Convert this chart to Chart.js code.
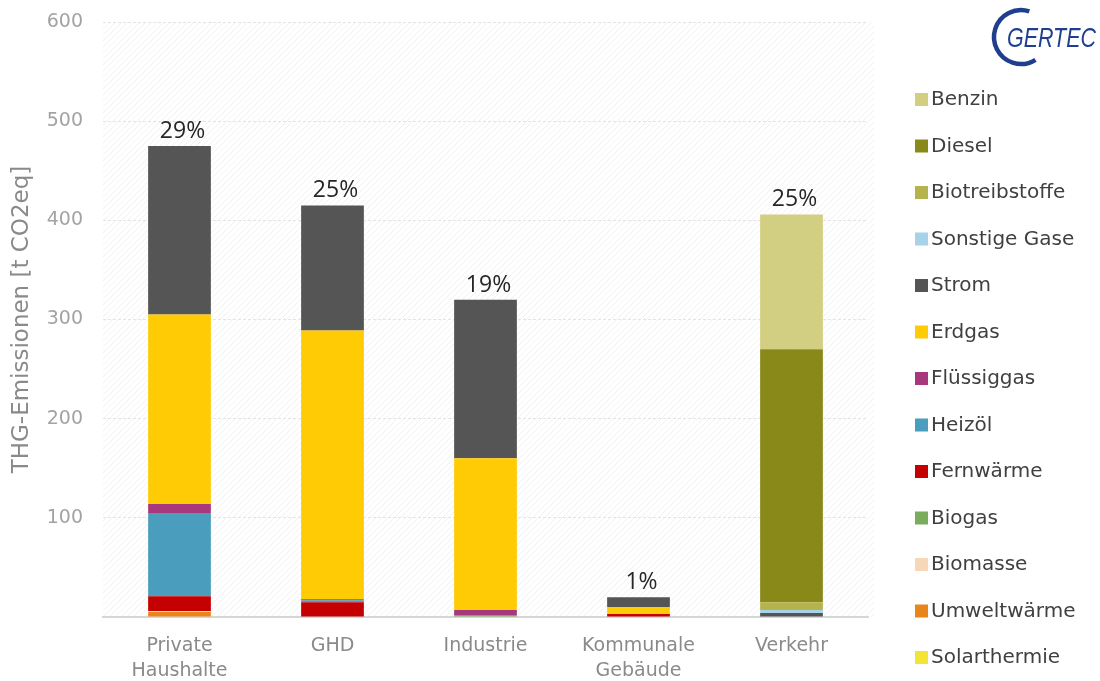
<!DOCTYPE html>
<html>
<head>
<meta charset="utf-8">
<script src="https://cdn.jsdelivr.net/npm/chart.js@4.4.1/dist/chart.umd.min.js"></script>
<style>
  html, body { margin: 0; padding: 0; background: #fff; }
  #wrap { width: 1100px; height: 681px; position: relative; }
</style>
</head>
<body>
<div id="wrap"><canvas id="chart"></canvas></div>
<script>
// categories and labels
const categories = [['Private', 'Haushalte'], 'GHD', 'Industrie', ['Kommunale', 'Gebäude'], 'Verkehr'];
const shareLabels = ['29%', '25%', '19%', '1%', '25%'];
const yTicks = [0, 100, 200, 300, 400, 500, 600];

// THG-Emissionen per energy carrier [t CO2eq], stacked bottom to top
const solarthermie   = [0, 0, 0, 0, 0];
const umweltwaerme   = [5, 0, 0, 0, 0];
const biomasse       = [1, 0, 0, 0, 0];
const biogas         = [0, 0, 2, 0, 0];
const fernwaerme     = [15, 15, 0, 3, 0];
const heizoel        = [84, 2, 0, 0, 0];
const fluessiggas    = [9, 1, 5, 0, 0];
const erdgas         = [191, 271, 153, 7, 0];
const strom          = [170, 126, 160, 10, 4];
const sonstigeGase   = [0, 0, 0, 0, 3];
const biotreibstoffe = [0, 0, 0, 0, 8];
const diesel         = [0, 0, 0, 0, 255];
const benzin         = [0, 0, 0, 0, 136];

const series = [
  { label: 'Solarthermie', data: solarthermie, color: '#f4e436' },
  { label: 'Umweltwärme', data: umweltwaerme, color: '#e8861c' },
  { label: 'Biomasse', data: biomasse, color: '#f7d8b6' },
  { label: 'Biogas', data: biogas, color: '#7bab5c' },
  { label: 'Fernwärme', data: fernwaerme, color: '#c40000' },
  { label: 'Heizöl', data: heizoel, color: '#4b9dbd' },
  { label: 'Flüssiggas', data: fluessiggas, color: '#a8387c' },
  { label: 'Erdgas', data: erdgas, color: '#ffcb05' },
  { label: 'Strom', data: strom, color: '#555555' },
  { label: 'Sonstige Gase', data: sonstigeGase, color: '#a7d2e8' },
  { label: 'Biotreibstoffe', data: biotreibstoffe, color: '#b4b34c' },
  { label: 'Diesel', data: diesel, color: '#898919' },
  { label: 'Benzin', data: benzin, color: '#d3cf82' }
];

// faint diagonal hatch behind the plot
function hatchPattern(ctx) {
  const c = document.createElement('canvas');
  c.width = 6; c.height = 6;
  const p = c.getContext('2d');
  p.fillStyle = '#ffffff';
  p.fillRect(0, 0, 6, 6);
  p.strokeStyle = '#f1f1f1';
  p.lineWidth = 1;
  p.beginPath();
  p.moveTo(0, 6); p.lineTo(6, 0);
  p.moveTo(-1, 1); p.lineTo(1, -1);
  p.moveTo(5, 7); p.lineTo(7, 5);
  p.stroke();
  return ctx.createPattern(c, 'repeat');
}

const backdrop = {
  id: 'backdrop',
  beforeDraw(chart) {
    const { ctx, chartArea: a } = chart;
    ctx.save();
    ctx.fillStyle = hatchPattern(ctx);
    ctx.fillRect(a.left, a.top, a.right - a.left + 6, a.bottom - a.top);
    ctx.restore();
  }
};

const shareLabelsPlugin = {
  id: 'shareLabels',
  afterDatasetsDraw(chart) {
    const { ctx } = chart;
    const x = chart.scales.x, y = chart.scales.y;
    ctx.save();
    ctx.font = '23px "Open Sans", "Noto Sans", sans-serif';
    ctx.fillStyle = '#262626';
    ctx.textAlign = 'center';
    ctx.textBaseline = 'alphabetic';
    categories.forEach((c, i) => {
      const total = series.reduce((s, d) => s + d.data[i], 0);
      ctx.fillText(shareLabels[i], x.getPixelForValue(i) + 3, y.getPixelForValue(total) - 8);
    });
    ctx.restore();
  }
};

const sideLegend = {
  id: 'sideLegend',
  afterDraw(chart) {
    const { ctx } = chart;
    const items = chart.data.datasets.slice().reverse();
    ctx.save();
    ctx.font = '20px "DejaVu Sans", sans-serif';
    ctx.textBaseline = 'middle';
    items.forEach((ds, i) => {
      const cy = 99 + i * 46.5;
      ctx.fillStyle = ds.backgroundColor;
      ctx.fillRect(915, cy - 6, 13, 13);
      ctx.fillStyle = '#404040';
      ctx.fillText(ds.label, 931, cy + 1);
    });
    ctx.restore();
  }
};

const logo = {
  id: 'logo',
  afterDraw(chart) {
    const { ctx } = chart;
    ctx.save();
    ctx.strokeStyle = '#1f3f8e';
    ctx.lineWidth = 4.5;
    ctx.beginPath();
    ctx.arc(1021, 37, 27, -0.4 * Math.PI, 0.32 * Math.PI, true);
    ctx.stroke();
    ctx.fillStyle = '#1f3f8e';
    ctx.font = 'italic 28px "Liberation Sans Narrow", "Liberation Sans", sans-serif';
    ctx.textBaseline = 'middle';
    ctx.fillText('GERTEC', 1007, 39, 89);
    ctx.restore();
  }
};

new Chart(document.getElementById('chart'), {
  type: 'bar',
  data: {
    labels: categories,
    datasets: series.map(s => ({
      label: s.label,
      data: s.data,
      backgroundColor: s.color,
      borderWidth: 0,
      barPercentage: 0.41,
      categoryPercentage: 1
    }))
  },
  options: {
    responsive: true,
    maintainAspectRatio: false,
    animation: false,
    layout: { padding: { top: 22, right: 232, bottom: 0, left: 0 } },
    plugins: {
      legend: { display: false },
      tooltip: { enabled: false }
    },
    scales: {
      x: {
        stacked: true,
        grid: { display: false, drawTicks: false },
        border: { color: '#d6d6d6', width: 2 },
        ticks: {
          color: '#8a8a8a',
          padding: 16,
          font: { family: '"DejaVu Sans", sans-serif', size: 19, lineHeight: 1.35 }
        },
        afterFit(scale) { scale.height = 64; }
      },
      y: {
        stacked: true,
        min: yTicks[0],
        max: yTicks[yTicks.length - 1],
        afterBuildTicks(scale) { scale.ticks = yTicks.map(v => ({ value: v })); },
        grid: {
          color: '#e4e4e4',
          lineWidth: 1,
          drawTicks: false
        },
        border: { display: false, dash: [3, 2] },
        ticks: {
          color: '#a3a3a3',
          padding: 20,
          font: { family: '"DejaVu Sans", sans-serif', size: 19 },
          callback: v => (v === 0 ? '' : v)
        },
        title: {
          display: true,
          text: 'THG-Emissionen [t CO2eq]',
          color: '#8a8a8a',
          font: { family: '"DejaVu Sans", sans-serif', size: 23 },
          padding: { top: 8, bottom: 0 }
        },
        afterFit(scale) {
          scale.width = 103;
          scale.paddingTop = 0;
          scale.paddingBottom = 0;
        }
      }
    }
  },
  plugins: [backdrop, shareLabelsPlugin, sideLegend, logo]
});
</script>
</body>
</html>
